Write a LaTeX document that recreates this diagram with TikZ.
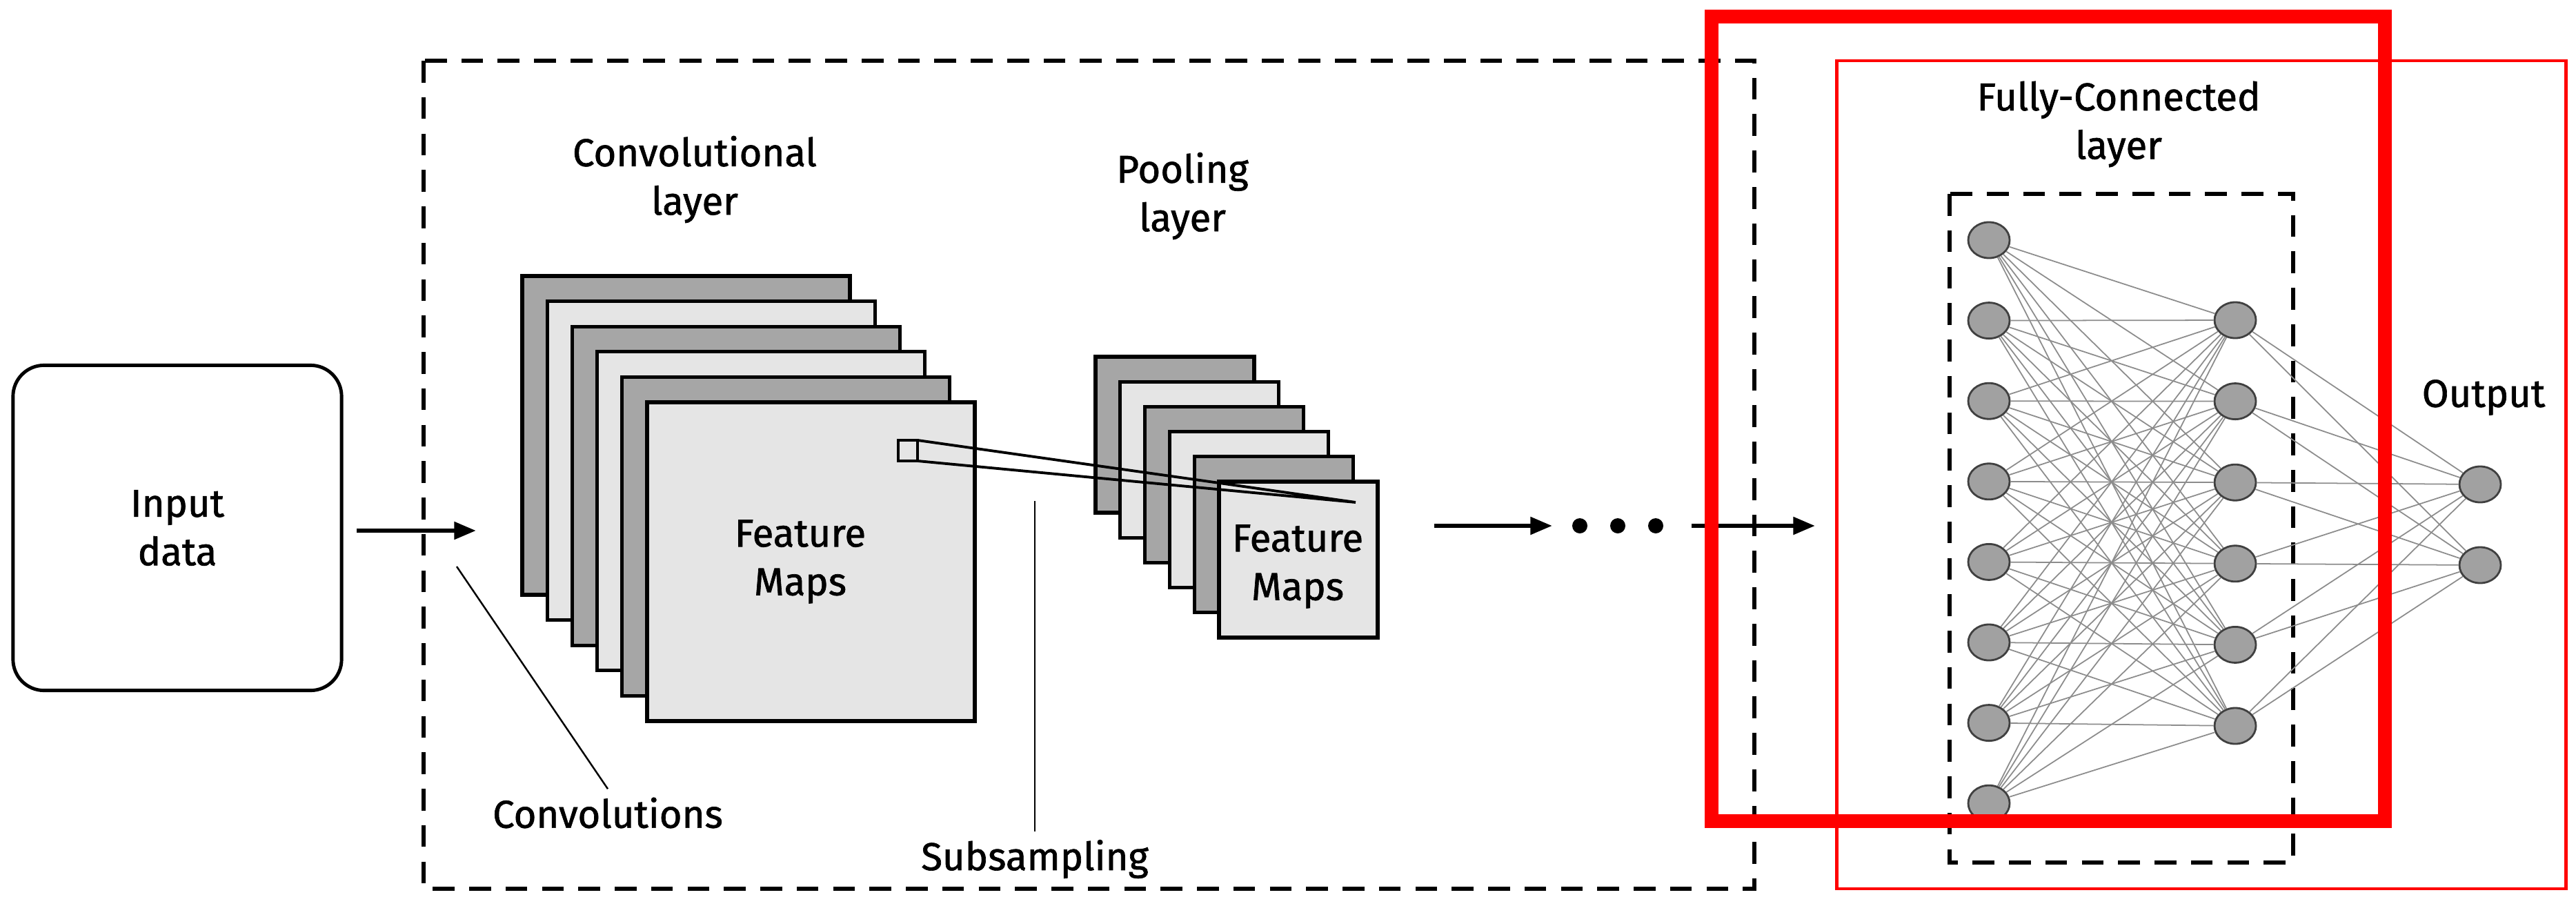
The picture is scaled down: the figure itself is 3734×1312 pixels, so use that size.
\documentclass[tikz,border=0pt]{standalone}
\usepackage{fontspec}
\setmainfont{Fira Sans}[FakeBold=1.2]
\usetikzlibrary{shapes.geometric,arrows.meta}
\begin{document}
\begin{tikzpicture}[x=0.01cm,y=-0.01cm,
  lbl/.style={font=\fontsize{16pt}{20pt}\selectfont,align=center},
  dk/.style={fill=black!35,draw=black,line width=1.5pt},
  lt/.style={fill=black!10,draw=black,line width=1.5pt},
  dsh/.style={draw=black,line width=1.5pt,dash pattern=on 9pt off 6pt},
  neu/.style={ellipse,minimum width=0.6cm,minimum height=0.52cm,inner sep=0pt,fill=black!37,draw=black!75,line width=0.8pt},
  wire/.style={draw=black!45,line width=0.5pt},
  arr/.style={-{Triangle[length=9pt,width=7pt]},line width=1.8pt}]
\useasboundingbox (0,0) rectangle (3734,1312);
% input
\node[draw,line width=1.4pt,rounded corners=0.45cm,minimum width=4.76cm,minimum height=4.71cm,lbl] (in) at (257,765) {Input\\data};
\draw[dsh] (614,88) rectangle (2543,1288);
% conv stack
\foreach \i/\s in {0/dk,1/lt,2/dk,3/lt,4/dk,5/lt}{
  \path[\s] ({757+36.2*\i},{400+36.6*\i}) rectangle ++(475,462);
}
\node[lbl] (fm1) at (1160,814) {Feature\\Maps};
\node[lbl] (cl) at (1007,260) {Convolutional\\layer};
% pool stack
\foreach \i/\s in {0/dk,1/lt,2/dk,3/lt,4/dk,5/lt}{
  \path[\s] ({1588+35.8*\i},{517+36.2*\i}) rectangle ++(230,226);
}
\node[lbl] (fm2) at (1881,821) {Feature\\Maps};
\node[lbl] (pl) at (1714,284) {Pooling\\layer};
% receptive field
\draw[line width=1.2pt,fill=black!10] (1302,638) rectangle (1330,668);
\coordinate (sq1) at (1330,638);
\coordinate (sq2) at (1330,668);
\coordinate (tgt) at (1965,728);
\draw[line width=1.1pt] (sq1) -- (tgt) (sq2) -- (tgt);
% conv/sub labels
\node[lbl] (cv) at (881,1178) {Convolutions};
\coordinate (cvp) at (662,821);
\draw[line width=0.7pt] (cvp) -- (cv.north);
\node[lbl] (ss) at (1500,1245) {Subsampling};
\coordinate (ssp) at (1500,726);
\draw[line width=0.7pt] (ssp) -- (ss.north);
% arrows
\coordinate (a1) at (517,769); \coordinate (a2) at (690,769);
\draw[arr] (a1) -- (a2);
\coordinate (b1) at (2079,762); \coordinate (b2) at (2250,762);
\draw[arr] (b1) -- (b2);
\foreach \x in {2290,2345,2400} \fill (\x,762) circle (11);
\coordinate (c1) at (2452,762); \coordinate (c2) at (2631,762);
\draw[arr] (c1) -- (c2);
% red thin
\draw[red,line width=1.4pt] (2662,88) rectangle (3719,1288);
% FC
\node[lbl] (fcl) at (3071,180) {Fully-Connected\\layer};
\draw[dsh] (2826,281) rectangle (3324,1250);
\node[lbl] (outl) at (3600,576) {Output};
\foreach \i in {1,...,8} \node[neu] (i\i) at (2883,{348+116.6*(\i-1)}) {};
\foreach \j in {1,...,6} \node[neu] (h\j) at (3240,{464+117.6*(\j-1)}) {};
\foreach \k in {1,2} \node[neu] (o\k) at (3595,{702+117*(\k-1)}) {};
\foreach \i in {1,...,8} \foreach \j in {1,...,6} \draw[wire] (i\i) -- (h\j);
\foreach \j in {1,...,6} \foreach \k in {1,2} \draw[wire] (h\j) -- (o\k);
% red thick
\draw[red,line width=5.5pt] (2481,24) rectangle (3457,1190);
\end{tikzpicture}
\end{document}
